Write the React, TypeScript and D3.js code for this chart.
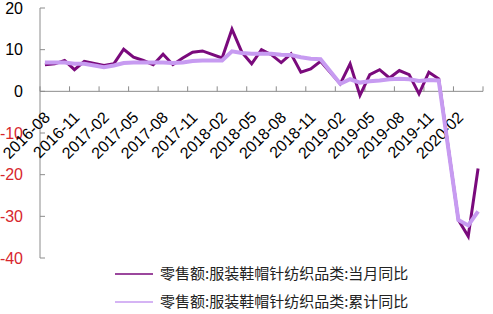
import React from "react";
import * as d3 from "d3";

const categories = [
  "2016-08","2016-09","2016-10","2016-11","2016-12",
  "2017-01","2017-02","2017-03","2017-04","2017-05","2017-06","2017-07","2017-08","2017-09","2017-10","2017-11","2017-12",
  "2018-01","2018-02","2018-03","2018-04","2018-05","2018-06","2018-07","2018-08","2018-09","2018-10","2018-11","2018-12",
  "2019-01","2019-02","2019-03","2019-04","2019-05","2019-06","2019-07","2019-08","2019-09","2019-10","2019-11","2019-12",
  "2020-01","2020-02","2020-03","2020-04",
];

const monthly: (number | null)[] = [
  6.4, 6.6, 7.4, 5.2, 7.2,
  null, 6.2, 6.6, 10.1, 8.2, 7.4, 6.4, 8.9, 6.4, 8.0, 9.4, 9.7,
  null, 8.0, 14.9, 9.4, 6.6, 10.0, 8.8, 6.9, 9.0, 4.6, 5.4, 7.2,
  null, 1.8, 6.6, -1.0, 4.0, 5.2, 3.2, 5.0, 4.0, -0.6, 4.6, 3.0,
  null, -30.9, -34.8, -18.5,
];

const cumulative: (number | null)[] = [
  6.9, 6.9, 6.9, 6.6, 6.6,
  null, 5.8, 6.2, 6.8, 6.9, 6.9, 6.9, 6.9, 6.8, 6.9, 7.3, 7.4,
  null, 7.4, 9.6, 9.2, 9.0, 9.0, 9.0, 8.8, 8.7, 8.2, 7.8, 7.7,
  null, 1.8, 2.9, 2.1, 2.4, 2.6, 2.9, 3.0, 2.9, 2.5, 2.7, 2.6,
  null, -30.9, -32.2, -28.8,
];

const yTicks = [20, 10, 0, -10, -20, -30, -40];
const seriesNames = ["零售额:服装鞋帽针纺织品类:当月同比", "零售额:服装鞋帽针纺织品类:累计同比"];

const W = 493;
const H = 314;
const left = 40;
const right = 483;
const top = 8;
const bottom = 258;

export default function App() {
  const n = categories.length;
  const band = (right - left) / n;
  const x = (i: number) => left + (i + 0.5) * band;
  const y = d3.scaleLinear().domain([-40, 20]).range([bottom, top]);

  const mk = (vals: (number | null)[]) => {
    const pts = vals
      .map((v, i) => (v === null ? null : ([x(i), y(v)] as [number, number])))
      .filter((p) => p !== null) as [number, number][];
    return d3.line()(pts) || "";
  };

  const axisColor = "#8c8c8c";
  const tickIdx = d3.range(0, n + 1, 3);
  const labelIdx = d3.range(0, n, 3);

  const darkColor = "#7a0a7c";
  const lightColor = "#c79bf1";

  return (
    <svg
      width={W}
      height={H}
      style={{ position: "absolute", left: 0, top: 0, background: "#fff" }}
    >
      {/* y axis */}
      <line x1={left} x2={left} y1={top} y2={bottom} stroke={axisColor} strokeWidth={1} />
      {yTicks.map((t) => (
        <g key={t}>
          <line x1={left} x2={left + 5} y1={y(t)} y2={y(t)} stroke={axisColor} strokeWidth={1} />
          <text
            x={23}
            y={y(t)}
            dy="0.35em"
            textAnchor="end"
            fontFamily="'Liberation Sans', Arial, sans-serif"
            fontSize={16}
            fill={t < 0 ? "#d7262d" : "#000"}
          >
            {t}
          </text>
        </g>
      ))}
      {/* x axis at 0 */}
      <line x1={left} x2={right} y1={y(0)} y2={y(0)} stroke={axisColor} strokeWidth={1} />
      {tickIdx.map((k) => (
        <line
          key={k}
          x1={left + k * band}
          x2={left + k * band}
          y1={y(0)}
          y2={y(0) - 5}
          stroke={axisColor}
          strokeWidth={1}
        />
      ))}
      {labelIdx.map((i) => (
        <text
          key={i}
          transform={`translate(${x(i) + 6},${y(0) + 27}) rotate(-45)`}
          textAnchor="end"
          fontFamily="'Liberation Sans', Arial, sans-serif"
          fontSize={16}
          fill="#000"
        >
          {categories[i]}
        </text>
      ))}
      {/* series */}
      <path d={mk(monthly)} fill="none" stroke={darkColor} strokeWidth={3} strokeLinejoin="miter" />
      <path d={mk(cumulative)} fill="none" stroke={lightColor} strokeWidth={4} strokeLinejoin="miter" />
      {/* legend */}
      {seriesNames.map((s, k) => {
        const ly = 274 + k * 28;
        return (
          <g key={s}>
            <line x1={115} x2={153} y1={ly} y2={ly} stroke={k === 0 ? darkColor : lightColor} strokeWidth={1.5} />
            <text
              x={160}
              y={ly}
              dy="0.36em"
              fontFamily="'Noto Sans CJK SC', sans-serif"
              fontSize={15}
              fill="#222"
            >
              {s}
            </text>
          </g>
        );
      })}
    </svg>
  );
}
